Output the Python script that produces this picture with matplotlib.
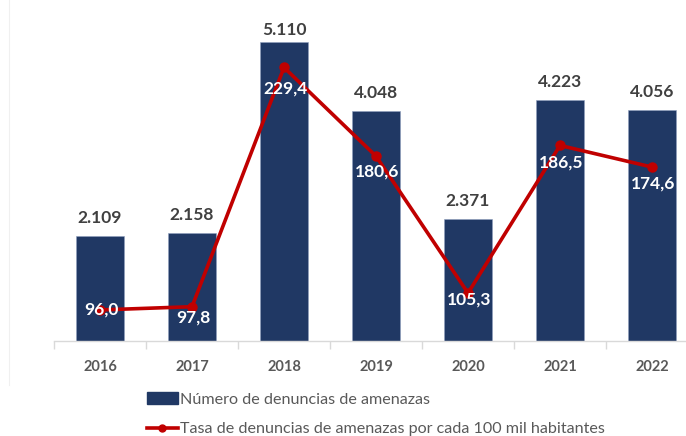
import matplotlib
matplotlib.use("Agg")
import matplotlib.pyplot as plt
from matplotlib.patches import Patch
from matplotlib.lines import Line2D

years = ["2016", "2017", "2018", "2019", "2020", "2021", "2022"]
denuncias = [2109, 2158, 5110, 4048, 2371, 4223, 4056]
denuncias_labels = ["2.109", "2.158", "5.110", "4.048", "2.371", "4.223", "4.056"]
tasa = [96.0, 97.8, 229.4, 180.6, 105.3, 186.5, 174.6]
tasa_labels = ["96,0", "97,8", "229,4", "180,6", "105,3", "186,5", "174,6"]
legend_bar = "Número de denuncias de amenazas"
legend_line = "Tasa de denuncias de amenazas por cada 100 mil habitantes"

BAR_C = "#203864"
LINE_C = "#C00000"
FONT = "Lato"

W, H = 686, 436
fig = plt.figure(figsize=(W / 100, H / 100), dpi=100)
fig.patch.set_facecolor("white")

base_y = 340.5
left_px = 54
cat_w = 92
ax = fig.add_axes([left_px / W, (H - base_y) / H, 7 * cat_w / W, base_y / H])
ax.set_facecolor("none")
x = list(range(len(years)))

ax.bar(x, denuncias, width=0.52, color=BAR_C, edgecolor="#8FA0BF", linewidth=0.4, zorder=2)
ax.set_xlim(-0.5, 6.5)
ax.set_ylim(490, 5765)

for s in ["top", "right", "left"]:
    ax.spines[s].set_visible(False)
ax.spines["bottom"].set_color("#D9D9D9")
ax.spines["bottom"].set_linewidth(1.0)
ax.set_yticks([])
ax.set_xticks([i - 0.5 for i in range(len(years) + 1)], minor=False)
ax.set_xticklabels([])
ax.tick_params(axis="x", which="major", length=6, color="#D9D9D9", width=1.0, direction="out")
ax.set_xticks(x, minor=True)
ax.set_xticklabels(years, minor=True)
ax.tick_params(axis="x", which="minor", length=0, pad=14)
for t in ax.get_xticklabels(minor=True):
    t.set_fontfamily(FONT)
    t.set_fontweight("bold")
    t.set_fontsize(10.5)
    t.set_color("#595959")

bar_off = [18, 18, 12, 18, 18, 18, 18]
for i, (v, lab) in enumerate(zip(denuncias, denuncias_labels)):
    ax.annotate(lab, (i, v), xytext=(0, bar_off[i] * 0.72), textcoords="offset points",
                ha="center", va="center", fontsize=12.5, fontweight="bold",
                color="#404040", fontfamily=FONT, zorder=5)

ax2 = ax.twinx()
ax2.set_ylim(79.2, 266.5)
ax2.set_yticks([])
for s in ax2.spines.values():
    s.set_visible(False)
ax2.plot(x, tasa, color=LINE_C, linewidth=2.6, marker="o", markersize=6.5, zorder=4)

line_off = [0, 11, 21, 15, 6, 17, 16]
for i, (v, lab) in enumerate(zip(tasa, tasa_labels)):
    ax2.annotate(lab, (i, v), xytext=(1, -line_off[i] * 0.72), textcoords="offset points",
                 ha="center", va="center", fontsize=12.5, fontweight="bold",
                 color="white", fontfamily=FONT, zorder=6)

# faint chart-area border
fig.add_artist(Line2D([9 / W, 9 / W], [1, (H - 385) / H], transform=fig.transFigure,
                      color="#F0F0F0", linewidth=0.8))

handles = [Patch(facecolor=BAR_C, edgecolor=BAR_C),
           Line2D([0], [0], color=LINE_C, linewidth=2.6, marker="o", markersize=5)]
fig.legend(handles, [legend_bar, legend_line], loc="upper left",
           bbox_to_anchor=(147 / W, (H - 392) / H), frameon=False,
           prop={"family": FONT, "size": 11.6}, labelcolor="#595959",
           handlelength=1.9, handleheight=0.75, handletextpad=0.15, labelspacing=0.95,
           borderaxespad=0, borderpad=0)

fig.savefig("out.png", dpi=100, facecolor="white")
